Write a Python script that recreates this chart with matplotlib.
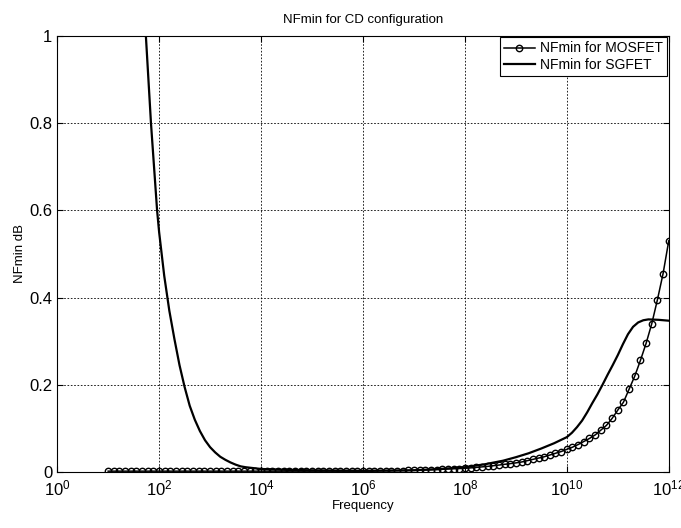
import numpy as np
import matplotlib
matplotlib.use('Agg')
import matplotlib.pyplot as plt
from matplotlib.ticker import FixedLocator, NullLocator

plt.rcParams['font.family'] = ['Liberation Sans', 'DejaVu Sans']

# MOSFET: 100 samples, 9 per decade from 10^1 to 10^12
freq_mosfet = np.logspace(1, 12, 100)
nf_mosfet = [0.002] * 45 + [
    0.002, 0.002, 0.0022, 0.0024, 0.0026, 0.0028, 0.003, 0.0033, 0.0036,
    0.004, 0.0043, 0.0047, 0.0052, 0.0057, 0.0063, 0.007, 0.0076, 0.008,
    0.0085, 0.0095, 0.0106, 0.0118, 0.013, 0.0145, 0.016, 0.0177, 0.0193,
    0.021, 0.023, 0.026, 0.029, 0.032, 0.035, 0.039, 0.043, 0.047,
    0.052, 0.057, 0.063, 0.070, 0.077, 0.085, 0.096, 0.107, 0.123,
    0.142, 0.160, 0.190, 0.220, 0.256, 0.295, 0.340, 0.395, 0.455, 0.530]

# SGFET: exponents of frequency and values
exp_sgfet = [1.72, 1.84, 1.96, 2.0, 2.1, 2.2, 2.3, 2.4, 2.5, 2.6, 2.7, 2.8, 2.9,
             3.0, 3.1, 3.2, 3.3, 3.4, 3.5, 3.6, 3.7, 3.85, 4.0, 4.5, 5.0, 6.0,
             7.0, 7.5, 8.0, 8.4, 8.75, 9.0, 9.25, 9.5, 9.75, 10.0, 10.1, 10.2,
             10.3, 10.4, 10.5, 10.6, 10.7, 10.8, 10.9, 11.0, 11.1, 11.2, 11.3,
             11.4, 11.5, 11.6, 11.8, 12.0]
nf_sgfet = [1.04, 0.80, 0.60, 0.55, 0.45, 0.37, 0.305, 0.245, 0.195, 0.152, 0.12, 0.094, 0.073,
            0.057, 0.045, 0.035, 0.028, 0.022, 0.017, 0.013, 0.011, 0.009, 0.007, 0.005, 0.004, 0.003,
            0.004, 0.007, 0.011, 0.018, 0.026, 0.034, 0.043, 0.054, 0.066, 0.080, 0.090, 0.103,
            0.118, 0.137, 0.158, 0.178, 0.200, 0.223, 0.245, 0.268, 0.293, 0.316, 0.333,
            0.343, 0.348, 0.350, 0.349, 0.347]
freq_sgfet = [10 ** e for e in exp_sgfet]

xticks = [10 ** e for e in range(0, 13, 2)]
yticks = [0, 0.2, 0.4, 0.6, 0.8, 1]
ytick_labels = ['0', '0.2', '0.4', '0.6', '0.8', '1']

fig = plt.figure(figsize=(6.81, 5.28), dpi=100)
ax = fig.add_axes([0.084, 0.106, 0.898, 0.826])

ax.plot(freq_mosfet, nf_mosfet, '-o', color='black', lw=1.1, ms=4.6,
        mfc='none', mew=1.0, label='NFmin for MOSFET')
ax.plot(freq_sgfet, nf_sgfet, '-', color='black', lw=1.6, label='NFmin for SGFET')

ax.set_xscale('log')
ax.set_xlim(1, 1e12)
ax.set_ylim(0, 1)
ax.xaxis.set_major_locator(FixedLocator(xticks))
ax.xaxis.set_minor_locator(NullLocator())
ax.set_yticks(yticks)
ax.set_yticklabels(ytick_labels)
ax.tick_params(direction='in', labelsize=12, length=4, width=0.8, top=True, right=True)
ax.tick_params(axis='x', pad=5)

ax.grid(True, color='black', linestyle=(0, (2, 2)), linewidth=0.6)
for s in ax.spines.values():
    s.set_linewidth(0.8)

ax.set_title('NFmin for CD configuration', fontsize=9.5, pad=9)
ax.set_xlabel('Frequency', fontsize=9.5, labelpad=1)
ax.set_ylabel('NFmin dB', fontsize=9.5, labelpad=2)

leg = ax.legend(loc='upper right', fontsize=10, fancybox=False, framealpha=1,
                edgecolor='black', borderaxespad=0.1, handlelength=2.2,
                handletextpad=0.4, borderpad=0.3, labelspacing=0.2)
leg.get_frame().set_linewidth(0.8)

fig.savefig('out.png', dpi=100)
